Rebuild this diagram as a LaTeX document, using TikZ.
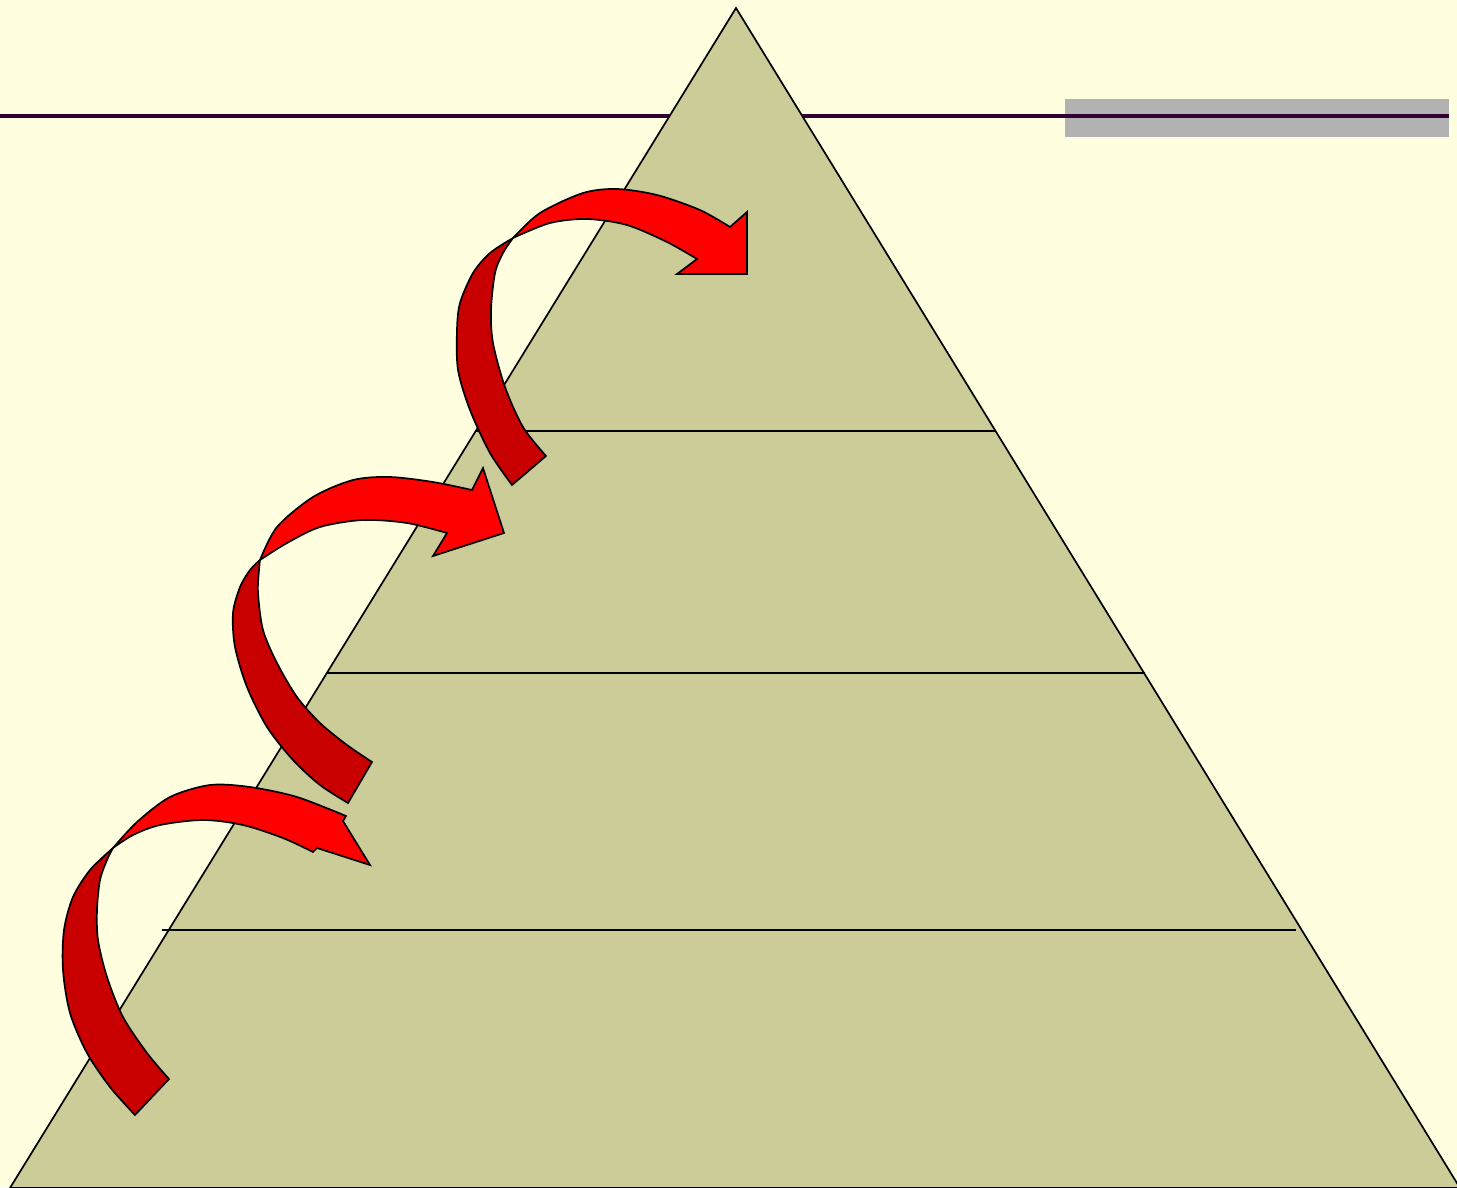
\documentclass[tikz,border=0pt]{standalone}
\definecolor{bgyellow}{RGB}{255,255,224}
\definecolor{pyramid}{RGB}{204,204,153}
\definecolor{barpurple}{RGB}{51,0,51}
\definecolor{bargray}{RGB}{178,178,178}
\definecolor{arrowfront}{RGB}{255,0,0}
\definecolor{arrowback}{RGB}{200,0,0}
\tikzset{
  outline/.style={draw=black, line width=1.7pt, line join=miter},
  frontpart/.style={outline, fill=arrowfront},
  backpart/.style={outline, fill=arrowback},
  tierline/.style={draw=black, line width=1.6pt},
}
\begin{document}
\begin{tikzpicture}[x=1pt,y=-1pt]
\useasboundingbox (0,0) rectangle (1457,1187);
\fill[bgyellow] (0,0) rectangle (1457,1187);
% header bar
\fill[bargray] (1065,99) rectangle (1449,137);
\draw[barpurple, line width=3.6pt] (0,116) -- (1449,116);
% pyramid
\coordinate (apex) at (736,8);
\coordinate (bl) at (10,1188);
\coordinate (br) at (1460,1188);
\filldraw[outline, fill=pyramid] (apex) -- (br) -- (bl) -- cycle;
\coordinate (l1a) at (476,431); \coordinate (l1b) at (995,431);
\coordinate (l2a) at (327,673); \coordinate (l2b) at (1145,673);
\coordinate (l3a) at (162,930); \coordinate (l3b) at (1296,930);
\draw[tierline] (l1a) -- (l1b);
\draw[tierline] (l2a) -- (l2b);
\draw[tierline] (l3a) -- (l3b);
% ---- arrow 3 (bottom)
\filldraw[backpart] plot[smooth] coordinates {(169,1079) (147,1053) (123,1017) (107,977) (98,940) (97,910) (100,880) (107,860) (113,848)}
  -- plot[smooth] coordinates {(113,848) (90,870) (73,897) (64,930) (63,970) (70,1013) (87,1053) (110,1087) (135,1115)} -- cycle;
\filldraw[frontpart] plot[smooth] coordinates {(113,848) (137,822) (170,797) (210,785) (250,787) (297,797) (346,816)}
  -- (343,821) -- (370,865) -- (317,848) -- (313,852)
  -- plot[smooth] coordinates {(313,852) (283,838) (243,825) (203,820) (160,825) (133,835) (113,848)} -- cycle;
% ---- arrow 2 (middle)
\filldraw[backpart] plot[smooth] coordinates {(372,762) (347,745) (320,723) (297,697) (277,663) (263,630) (258,593) (259,570) (260,560)}
  -- plot[smooth] coordinates {(260,560) (250,570) (240,587) (233,613) (235,647) (247,687) (267,727) (293,760) (320,785) (348,803)} -- cycle;
\filldraw[frontpart] plot[smooth] coordinates {(260,560) (277,527) (313,497) (353,480) (390,477) (433,482) (472,490)}
  -- (483,468) -- (504,533) -- (433,556) -- (447,533)
  -- plot[smooth] coordinates {(447,533) (407,523) (363,520) (320,527) (287,543) (260,560)} -- cycle;
% ---- arrow 1 (top)
\filldraw[backpart] plot[smooth] coordinates {(546,456) (523,427) (505,387) (493,343) (491,310) (495,273) (503,253) (513,238)}
  -- plot[smooth] coordinates {(513,238) (490,253) (473,273) (460,303) (457,330) (458,370) (470,410) (490,453) (512,485)} -- cycle;
\filldraw[frontpart] plot[smooth] coordinates {(513,238) (540,213) (583,193) (617,189) (657,195) (700,210) (730,227)}
  -- (747,212) -- (747,274) -- (677,274) -- (697,259)
  -- plot[smooth] coordinates {(697,259) (667,242) (627,225) (587,219) (550,223) (513,238)} -- cycle;
\end{tikzpicture}
\end{document}
